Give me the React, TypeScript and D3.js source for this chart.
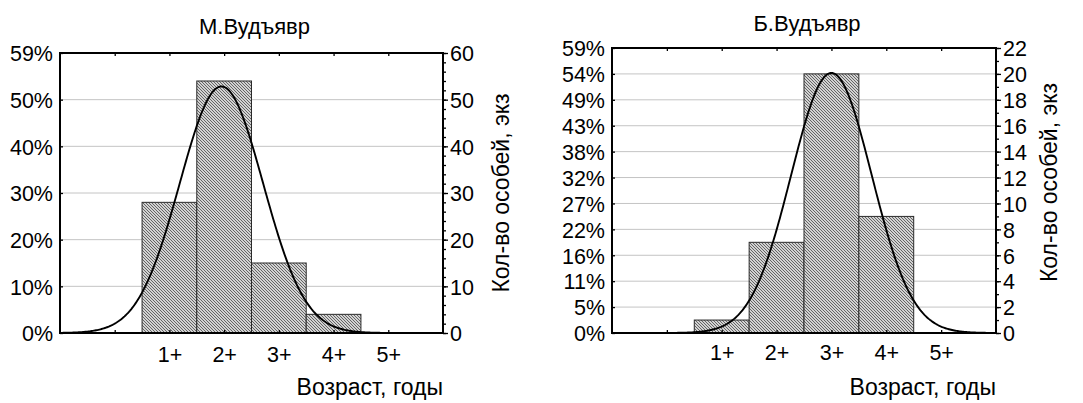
import React, { useEffect, useRef } from "react";
import * as d3 from "d3";

// age groups on the x axis
const ageLabels = ["1+", "2+", "3+", "4+", "5+"];
const ageValues = [1, 2, 3, 4, 5];

// number of fish per age group
const countsMalyi = [28, 54, 15, 4, 0];
const countsBolshoi = [1, 7, 20, 9, 0];

// count axis settings
const ticksMalyi = [0, 10, 20, 30, 40, 50, 60];
const ticksBolshoi = [0, 2, 4, 6, 8, 10, 12, 14, 16, 18, 20, 22];

const FONT = "'Liberation Sans', Arial, sans-serif";
const FS = 21.5;
const FS_TITLE = 23;

type PanelProps = {
  title: string;
  counts: number[];
  ticks: number[];
  minorStep: number;
  box: { x0: number; x1: number; y0: number; y1: number };
  titleY: number;
  xLabelY: number;
  yTitleX: number;
  yTitleShift: number;
};

const Panel = ({ title, counts, ticks, minorStep, box, titleY, xLabelY, yTitleX, yTitleShift }: PanelProps) => {
  const ref = useRef<SVGGElement>(null);

  useEffect(() => {
    const g = d3.select(ref.current);
    g.selectAll("*").remove();

    const { x0, x1, y0, y1 } = box;
    const n = d3.sum(counts);
    const yMax = ticks[ticks.length - 1];

    const x = d3.scaleLinear().domain([-1, 6]).range([x0, x1]);
    const y = d3.scaleLinear().domain([0, yMax]).range([y1, y0]);

    // fitted normal curve (from the counts)
    const mean = d3.sum(counts, (c, i) => c * ageValues[i]) / n;
    const sd = Math.sqrt(d3.sum(counts, (c, i) => c * (ageValues[i] - mean) ** 2) / n);
    const curve = d3.range(-1, 6.001, 0.02).map((v) => [
      v,
      (n / (sd * Math.sqrt(2 * Math.PI))) * Math.exp(-((v - mean) ** 2) / (2 * sd * sd)),
    ]);

    // grid
    g.append("g")
      .selectAll("line")
      .data(ticks.slice(1, -1))
      .enter()
      .append("line")
      .attr("x1", x0)
      .attr("x2", x1)
      .attr("y1", (d) => y(d))
      .attr("y2", (d) => y(d))
      .attr("stroke", "#c4c4c4")
      .attr("stroke-width", 1);

    // bars
    g.append("g")
      .selectAll("rect")
      .data(counts.filter((c) => c > 0))
      .enter()
      .append("rect")
      .attr("x", (d, i) => x(ageValues[i] - 0.5))
      .attr("width", (d, i) => x(ageValues[i] + 0.5) - x(ageValues[i] - 0.5))
      .attr("y", (d) => y(d))
      .attr("height", (d) => y1 - y(d))
      .attr("fill", "url(#hatch)")
      .attr("stroke", "#2a2a2a")
      .attr("stroke-width", 1);

    // curve
    g.append("path")
      .datum(curve)
      .attr("d", d3.line().x((d) => x(d[0])).y((d) => y(d[1])))
      .attr("fill", "none")
      .attr("stroke", "#000")
      .attr("stroke-width", 1.9);

    // axes
    const styleAxis = (sel) => {
      sel.select(".domain").remove();
      sel.selectAll("line").attr("stroke", "#000").attr("stroke-width", 1.3);
      sel.selectAll("text").attr("font-family", FONT).attr("font-size", FS).attr("fill", "#000");
    };

    g.append("g")
      .attr("transform", `translate(${x0},0)`)
      .call(
        d3.axisLeft(y).tickValues(ticks).tickSize(-3).tickPadding(8)
          .tickFormat((d) => Math.round(((d as number) / n) * 100) + "%")
      )
      .call(styleAxis)
      .selectAll("text")
      .attr("x", -7)
      .attr("dy", "0.36em");

    g.append("g")
      .attr("transform", `translate(${x1},0)`)
      .call(d3.axisRight(y).tickValues(d3.range(0, yMax + 0.001, minorStep)).tickSize(3).tickFormat(() => ""))
      .call(styleAxis);

    g.append("g")
      .attr("transform", `translate(${x1},0)`)
      .call(d3.axisRight(y).tickValues(ticks).tickSize(5).tickPadding(2))
      .call(styleAxis)
      .selectAll("text")
      .attr("x", 7)
      .attr("dy", "0.36em");

    g.append("g")
      .attr("transform", `translate(0,${y1})`)
      .call(d3.axisBottom(x).tickValues(ageValues).tickSize(-3).tickFormat((d, i) => ageLabels[i]))
      .call(styleAxis)
      .selectAll("text")
      .attr("y", 0)
      .attr("dy", 0)
      .attr("transform", `translate(0,${xLabelY - y1})`);

    g.append("g")
      .attr("transform", `translate(0,${y1})`)
      .call(d3.axisBottom(x).tickValues([0]).tickSize(-3).tickFormat(() => ""))
      .call(styleAxis);

    g.append("g")
      .attr("transform", `translate(0,${y0})`)
      .call(d3.axisTop(x).tickValues(d3.range(0, 6)).tickSize(-3).tickFormat(() => ""))
      .call(styleAxis);

    // frame
    g.append("rect")
      .attr("x", x0)
      .attr("y", y0)
      .attr("width", x1 - x0)
      .attr("height", y1 - y0)
      .attr("fill", "none")
      .attr("stroke", "#000")
      .attr("stroke-width", 2);

    // titles
    g.append("text")
      .attr("x", (x0 + x1) / 2 + 3)
      .attr("y", titleY)
      .attr("text-anchor", "middle")
      .attr("font-family", FONT)
      .attr("font-size", FS_TITLE - 1)
      .text(title);

    g.append("text")
      .attr("x", x1)
      .attr("y", 395)
      .attr("text-anchor", "end")
      .attr("font-family", FONT)
      .attr("font-size", FS_TITLE)
      .text("Возраст, годы");

    g.append("text")
      .attr("transform", `translate(${yTitleX},${(y0 + y1) / 2 + yTitleShift}) rotate(-90)`)
      .attr("text-anchor", "middle")
      .attr("font-family", FONT)
      .attr("font-size", FS_TITLE)
      .text("Кол-во особей, экз");
  }, []);

  return <g ref={ref}></g>;
};

const App = () => {
  return (
    <svg width={1083} height={403} style={{ position: "absolute", left: 0, top: 0, background: "#fff" }}>
      <defs>
        <pattern id="hatch" patternUnits="userSpaceOnUse" width={3} height={3}>
          <rect width={3} height={3} fill="#d2d2d2" />
          <path d="M0,0 L3,3 M-1,2 L1,4 M2,-1 L4,1" stroke="#646464" strokeWidth={1} />
        </pattern>
      </defs>
      <Panel
        title="М.Вудъявр"
        counts={countsMalyi}
        ticks={ticksMalyi}
        minorStep={2}
        box={{ x0: 60, x1: 443, y0: 53, y1: 333 }}
        titleY={34}
        xLabelY={362}
        yTitleX={509}
        yTitleShift={0}
      />
      <Panel
        title="Б.Вудъявр"
        counts={countsBolshoi}
        ticks={ticksBolshoi}
        minorStep={1}
        box={{ x0: 612, x1: 996, y0: 48, y1: 333 }}
        titleY={31}
        xLabelY={360}
        yTitleX={1057}
        yTitleShift={-8}
      />
    </svg>
  );
};

export default App;
